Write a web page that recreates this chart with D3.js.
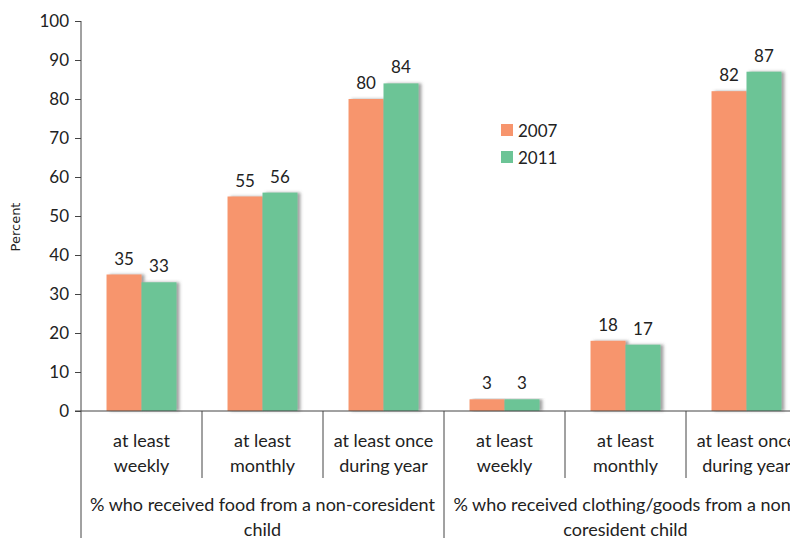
<!DOCTYPE html>
<html>
<head>
<meta charset="utf-8">
<script src="https://cdn.jsdelivr.net/npm/d3@7"></script>
<style>
  body { margin: 0; background: #fff; }
  svg { display: block; }
  .tick text, .lbl { font-family: Lato, "Open Sans", sans-serif; fill: #222; }
</style>
</head>
<body>
<svg id="chart"></svg>
<script>
// grouped bars, two survey years
var groups = [
  ["% who received food from a non-coresident", "child"],
  ["% who received clothing/goods from a non-", "coresident child"]
];
var categories = [
  ["at least", "weekly"],
  ["at least", "monthly"],
  ["at least once", "during year"],
  ["at least", "weekly"],
  ["at least", "monthly"],
  ["at least once", "during year"]
];
var years = ["2007", "2011"];
var values2007 = [35, 55, 80, 3, 18, 82];
var values2011 = [33, 56, 84, 3, 17, 87];
var yTicks = [0, 10, 20, 30, 40, 50, 60, 70, 80, 90, 100];

var colors = { "2007": "#f7956d", "2011": "#6cc496" };

var width = 790, height = 538;
var plotLeft = 81, plotTop = 21, plotBottom = 411;
var bandW = 121;

var svg = d3.select("#chart").attr("width", width).attr("height", height);

var defs = svg.append("defs");
var f = defs.append("filter").attr("id", "shadow")
  .attr("x", "-20%").attr("y", "-5%").attr("width", "150%").attr("height", "110%");
f.append("feDropShadow")
  .attr("dx", 3).attr("dy", 0).attr("stdDeviation", 1.6)
  .attr("flood-color", "#555").attr("flood-opacity", 0.55);

var x0 = d3.scaleBand()
  .domain(d3.range(categories.length))
  .range([plotLeft, plotLeft + bandW * categories.length])
  .paddingInner(0).paddingOuter(0);

var x1 = d3.scaleBand()
  .domain(years)
  .range([0, x0.bandwidth()])
  .paddingOuter(0.73).paddingInner(0);

var y = d3.scaleLinear().domain([0, 100]).range([plotBottom, plotTop]);

// y axis
var yAxis = d3.axisLeft(y).tickValues(yTicks).tickSize(6).tickPadding(6);
var gy = svg.append("g").attr("transform", "translate(" + plotLeft + ",0)").call(yAxis);
gy.select(".domain").remove();
gy.selectAll(".tick line").attr("stroke", "#444");
gy.selectAll(".tick text").style("font-size", "17px");

svg.append("text")
  .attr("transform", "translate(20,227) rotate(-90)")
  .attr("text-anchor", "middle")
  .style("font-family", "'DejaVu Sans', sans-serif")
  .style("font-size", "13px")
  .style("fill", "#222")
  .text("Percent");

// bars
var rows = categories.map(function (c, i) {
  return { i: i, vals: [{ year: "2007", v: values2007[i] }, { year: "2011", v: values2011[i] }] };
});

var cat = svg.selectAll(".cat").data(rows).enter().append("g")
  .attr("class", "cat")
  .attr("transform", function (d) { return "translate(" + x0(d.i) + ",0)"; });

cat.selectAll("rect").data(function (d) { return d.vals; }).enter().append("rect")
  .attr("x", function (d) { return x1(d.year); })
  .attr("y", function (d) { return y(d.v); })
  .attr("width", x1.bandwidth())
  .attr("height", function (d) { return plotBottom - y(d.v); })
  .attr("fill", function (d) { return colors[d.year]; })
  .attr("filter", "url(#shadow)");

cat.selectAll(".val").data(function (d) { return d.vals; }).enter().append("text")
  .attr("class", "lbl val")
  .attr("x", function (d) { return x1(d.year) + x1.bandwidth() / 2; })
  .attr("y", function (d) { return y(d.v) - 10; })
  .attr("text-anchor", "middle")
  .style("font-size", "17px")
  .text(function (d) { return d.v; });

// axis lines
svg.append("line")
  .attr("x1", plotLeft).attr("x2", plotLeft).attr("y1", plotTop).attr("y2", height)
  .attr("stroke", "#444");
svg.append("line")
  .attr("x1", plotLeft - 6).attr("x2", width).attr("y1", plotBottom).attr("y2", plotBottom)
  .attr("stroke", "#444");

// category separators
d3.range(1, categories.length).forEach(function (i) {
  var xx = x0(i);
  svg.append("line")
    .attr("x1", xx).attr("x2", xx)
    .attr("y1", plotBottom)
    .attr("y2", i === 3 ? height : 478)
    .attr("stroke", "#444");
});

// category labels
cat.each(function (d) {
  var g = d3.select(this);
  categories[d.i].forEach(function (line, k) {
    g.append("text")
      .attr("class", "lbl")
      .attr("x", x0.bandwidth() / 2)
      .attr("y", 447 + k * 25)
      .attr("text-anchor", "middle")
      .style("font-size", "18px")
      .text(line);
  });
});

// group labels
groups.forEach(function (lines, gi) {
  var cx = x0(gi * 3) + bandW * 1.5;
  lines.forEach(function (line, k) {
    svg.append("text")
      .attr("class", "lbl")
      .attr("x", cx)
      .attr("y", 511 + k * 25)
      .attr("text-anchor", "middle")
      .style("font-size", "18px")
      .text(line);
  });
});

// legend
var legend = svg.append("g").attr("transform", "translate(501,124)");
years.forEach(function (yr, i) {
  var row = legend.append("g").attr("transform", "translate(0," + i * 27 + ")");
  row.append("rect").attr("width", 12).attr("height", 12).attr("fill", colors[yr]);
  row.append("text").attr("class", "lbl")
    .attr("x", 17).attr("y", 13)
    .style("font-size", "17px")
    .text(yr);
});
</script>
</body>
</html>
